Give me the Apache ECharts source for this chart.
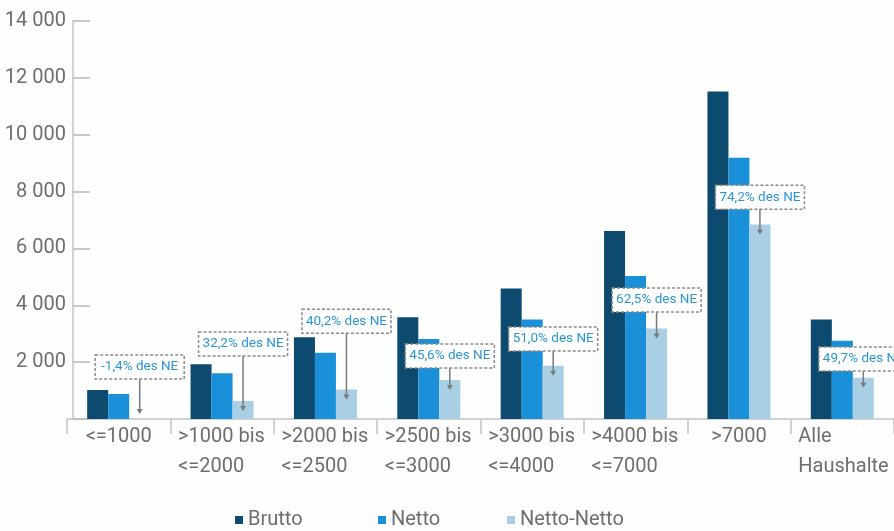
<!DOCTYPE html>
<html>
<head>
<meta charset="utf-8">
<script src="https://cdn.jsdelivr.net/npm/echarts@6/dist/echarts.min.js"></script>
<style>
  html, body { margin: 0; padding: 0; background: #fefefe; }
  #chart { width: 894px; height: 531px; }
</style>
</head>
<body>
<div id="chart"></div>
<script>
// Kategorien (Haushaltsnettoeinkommen)
var categories = ['<=1000', '>1000 bis\n<=2000', '>2000 bis\n<=2500', '>2500 bis\n<=3000',
  '>3000 bis\n<=4000', '>4000 bis\n<=7000', '>7000', 'Alle\nHaushalte'];
var brutto = [1020, 1930, 2880, 3580, 4590, 6610, 11520, 3500];
var netto = [880, 1605, 2330, 2810, 3500, 5030, 9190, 2750];
var nettoNetto = [0, 630, 1040, 1370, 1870, 3180, 6840, 1450];
// Hinweiskästen über den Netto-Netto-Säulen
var noteTexts = ['-1,4% des NE', '32,2% des NE', '40,2% des NE', '45,6% des NE',
  '51,0% des NE', '62,5% des NE', '74,2% des NE', '49,7% des NE'];
var noteLevels = [1405, 2213, 3020, 1790, 2390, 3760, 7375, 1686];
var yTicks = [0, 2000, 4000, 6000, 8000, 10000, 12000, 14000];

var BAR_W = 21;
var GRAY = '#6e6e6e';
var chart = echarts.init(document.getElementById('chart'));

function fmtThousands(v) {
  if (v === 0) return '';
  return String(v).replace(/\B(?=(\d{3})+(?!\d))/g, ' ');
}

var noteData = categories.map(function (c, i) {
  return [i, nettoNetto[i], noteLevels[i]];
});

function legendItem(name, left) {
  return {
    data: [name],
    left: left,
    top: 510,
    padding: 0,
    icon: 'rect',
    itemWidth: 8,
    itemHeight: 8,
    textStyle: { fontSize: 20, color: GRAY, fontFamily: 'Roboto' },
    selectedMode: false
  };
}

var option = {
  backgroundColor: '#fefefe',
  animation: false,
  color: ['#0c4a70', '#1a90d9', '#a9cfe5'],
  legend: [legendItem('Brutto', 235), legendItem('Netto', 378), legendItem('Netto-Netto', 507)],
  grid: { left: 67, right: 0, top: 21, bottom: 112 },
  xAxis: {
    type: 'category',
    data: categories,
    axisLine: { lineStyle: { color: '#c4c4c4', width: 1.5 } },
    axisTick: { show: true, length: 15, lineStyle: { color: '#c4c4c4', width: 1.5 } },
    axisLabel: {
      interval: 0,
      margin: 3,
      color: GRAY,
      fontSize: 20,
      fontFamily: 'Roboto',
      lineHeight: 30,
      formatter: function (v) {
        if (v.indexOf('\n') < 0) return v;
        return v.split('\n').map(function (s) { return '{b|' + s + '}'; }).join('\n');
      },
      rich: {
        b: { width: 88, align: 'left', fontSize: 20, lineHeight: 30, color: GRAY, fontFamily: 'Roboto' }
      }
    }
  },
  yAxis: {
    type: 'value',
    min: yTicks[0],
    max: yTicks[yTicks.length - 1],
    interval: 2000,
    offset: -6,
    splitLine: { show: false },
    axisLine: { show: true, lineStyle: { color: '#c4c4c4', width: 1.5 } },
    axisTick: { show: true, inside: true, length: 17, lineStyle: { color: '#b8b8b8', width: 1.5 } },
    axisLabel: {
      margin: 7,
      color: GRAY,
      fontSize: 20,
      fontFamily: 'Roboto',
      formatter: fmtThousands
    }
  },
  series: [
    { name: 'Brutto', type: 'bar', data: brutto, barWidth: BAR_W, barGap: '0%' },
    { name: 'Netto', type: 'bar', data: netto, barWidth: BAR_W, barGap: '0%' },
    { name: 'Netto-Netto', type: 'bar', data: nettoNetto, barWidth: BAR_W, barGap: '0%' },
    {
      name: 'Hinweis',
      type: 'custom',
      data: noteData,
      z: 10,
      silent: true,
      renderItem: function (params, api) {
        var i = api.value(0);
        var base = api.coord([i, api.value(1)]);
        var lvl = api.coord([i, api.value(2)]);
        var zeroY = api.coord([i, 0])[1];
        var x = base[0] + BAR_W; // Mitte der Netto-Netto-Säule
        var tipY = Math.min(base[1] + 10, zeroY - 5);
        var boxW = 89, boxH = 24;
        var boxBottom = lvl[1];
        return {
          type: 'group',
          children: [
            {
              type: 'line',
              shape: { x1: x, y1: boxBottom, x2: x, y2: tipY - 3 },
              style: { stroke: '#7a7a7a', lineWidth: 1.5 }
            },
            {
              type: 'polygon',
              shape: { points: [[x - 3, tipY - 5], [x + 3, tipY - 5], [x, tipY]] },
              style: { fill: '#7a7a7a' }
            },
            {
              type: 'rect',
              shape: { x: x - boxW / 2, y: boxBottom - boxH, width: boxW, height: boxH },
              style: { fill: '#ffffff', stroke: '#8a8a8a', lineWidth: 1.5, lineDash: [3, 2] }
            },
            {
              type: 'text',
              style: {
                text: noteTexts[i],
                x: x,
                y: boxBottom - boxH / 2,
                align: 'center',
                verticalAlign: 'middle',
                fill: '#2a96d8',
                fontSize: 13.5,
                fontFamily: 'Roboto'
              }
            }
          ]
        };
      }
    }
  ]
};

chart.setOption(option);
window.addEventListener('resize', function () { chart.resize(); });
</script>
</body>
</html>
